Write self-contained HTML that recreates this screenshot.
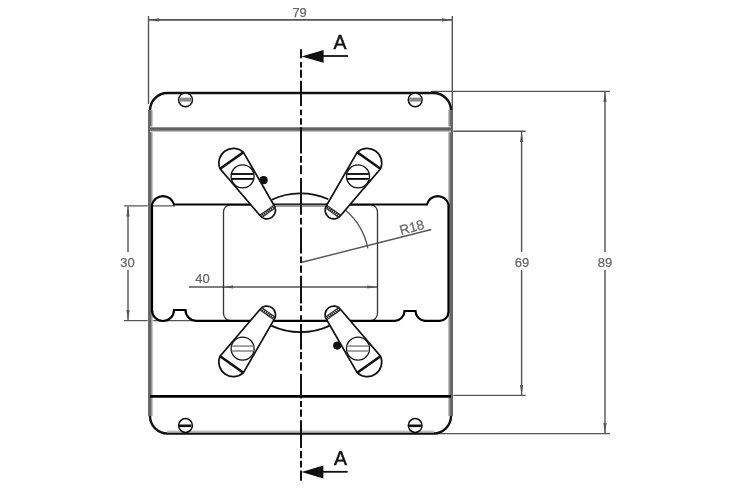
<!DOCTYPE html>
<html><head><meta charset="utf-8">
<style>
html,body{margin:0;padding:0;background:#fff;}
svg{display:block;filter:blur(0.45px);}
text{font-family:"Liberation Sans",sans-serif;}
</style></head>
<body>
<svg width="750" height="495" viewBox="0 0 750 495">
<defs>
  <linearGradient id="gt" x1="0" y1="0" x2="0" y2="1">
    <stop offset="0" stop-color="#fff"/><stop offset="0.22" stop-color="#666"/><stop offset="0.45" stop-color="#585858"/><stop offset="0.75" stop-color="#8a8a8a"/><stop offset="1" stop-color="#fff"/>
  </linearGradient>
  <linearGradient id="gb" x1="0" y1="0" x2="0" y2="1">
    <stop offset="0" stop-color="#fff"/><stop offset="1" stop-color="#888"/>
  </linearGradient>
  <linearGradient id="gl" x1="0" y1="0" x2="1" y2="0">
    <stop offset="0" stop-color="#fff"/><stop offset="0.12" stop-color="#6a6a6a"/><stop offset="0.5" stop-color="#646464"/><stop offset="0.88" stop-color="#c8c8c8"/><stop offset="1" stop-color="#fff"/>
  </linearGradient>
  <linearGradient id="gr" x1="0" y1="0" x2="1" y2="0">
    <stop offset="0" stop-color="#fff"/><stop offset="0.12" stop-color="#c8c8c8"/><stop offset="0.5" stop-color="#6a6a6a"/><stop offset="0.88" stop-color="#646464"/><stop offset="1" stop-color="#fff"/>
  </linearGradient>
  <marker id="ah" viewBox="0 0 10 4" refX="10" refY="2" markerWidth="10" markerHeight="4" markerUnits="userSpaceOnUse" orient="auto">
    <path d="M0,0.4 L10,2 L0,3.6 Z" fill="#555"/>
  </marker>
  <g id="leverbody">
    <g transform="translate(233.5,163) rotate(-35.22)">
      <path d="M14.3,-3 L8.7,57.8 A8.7 8.7 0 0 1 -8.7,57.8 L-14.3,-3 A14.6 14.6 0 0 1 14.3,-3 Z" fill="#fff" stroke="#111" stroke-width="1.7"/>
      <line x1="-14.3" y1="-3" x2="14.3" y2="-3" stroke="#111" stroke-width="2.6"/>
      <line x1="-8.7" y1="59.3" x2="8.7" y2="59.3" stroke="#222" stroke-width="3" stroke-dasharray="1.4 0.7"/>
      <line x1="-8.7" y1="57.8" x2="8.7" y2="57.8" stroke="#222" stroke-width="1"/>
      <line x1="-8.4" y1="60.8" x2="8.4" y2="60.8" stroke="#333" stroke-width="1"/>
    </g>
    <circle cx="242.6" cy="176.3" r="11.5" fill="#fff" stroke="#111" stroke-width="1.3"/>
  </g>
  <g id="slots"><line x1="231.8" y1="174" x2="253.4" y2="174"/><line x1="231.8" y1="178.9" x2="253.4" y2="178.9"/></g>
</defs>

<!-- 79 dimension -->
<g stroke="#555" stroke-width="1.4" fill="none">
  <line x1="148.5" y1="16" x2="148.5" y2="104"/>
  <line x1="452.3" y1="16" x2="452.3" y2="112"/>
  <line x1="149" y1="19.8" x2="452" y2="19.8" marker-end="url(#ah)"/>
  <line x1="452" y1="19.8" x2="149" y2="19.8" marker-end="url(#ah)"/>
</g>
<text x="299.6" y="17" font-size="12.8" fill="#666" stroke="#666" stroke-width="0.25" text-anchor="middle">79</text>

<!-- right dims -->
<g stroke="#555" stroke-width="1.4" fill="none">
  <line x1="431" y1="91.4" x2="610" y2="91.4"/>
  <line x1="452" y1="131.2" x2="525.6" y2="131.2"/>
  <line x1="452" y1="395.4" x2="525.6" y2="395.4"/>
  <line x1="431" y1="433.6" x2="610" y2="433.6"/>
  <line x1="605" y1="252" x2="605" y2="92" marker-end="url(#ah)"/>
  <line x1="605" y1="270" x2="605" y2="433" marker-end="url(#ah)"/>
  <line x1="521.6" y1="252" x2="521.6" y2="132" marker-end="url(#ah)"/>
  <line x1="521.6" y1="270" x2="521.6" y2="395" marker-end="url(#ah)"/>
  <!-- 30 -->
  <line x1="124" y1="205.9" x2="175" y2="205.9"/>
  <line x1="124" y1="320.6" x2="196" y2="320.6"/>
  <line x1="128" y1="252" x2="128" y2="206.5" marker-end="url(#ah)"/>
  <line x1="128" y1="270" x2="128" y2="320" marker-end="url(#ah)"/>
  <!-- 40 -->
  <line x1="189" y1="287" x2="223.5" y2="287"/>
  <line x1="300" y1="287" x2="223.3" y2="287" marker-end="url(#ah)"/>
  <line x1="300" y1="287" x2="377.3" y2="287" marker-end="url(#ah)"/>
  <!-- R18 -->
  <line x1="301" y1="262.5" x2="431.3" y2="229.5"/>
  <path d="M344.8,209.5 A69 69 0 0 1 367.9,248.3"/>
</g>
<g fill="#666" font-size="13" stroke="#666" stroke-width="0.25">
<text x="522" y="267.4" text-anchor="middle">69</text>
<text x="605" y="267.4" text-anchor="middle">89</text>
<text x="127.6" y="267" text-anchor="middle">30</text>
<text x="202.4" y="283" text-anchor="middle">40</text>
<text x="0" y="0" font-size="13.5" transform="translate(401,235) rotate(-15)">R18</text>
</g>

<!-- outer plate -->
<path d="M150,110.5 A17.5 17.5 0 0 1 167.5,93 L433.5,93 A17.5 17.5 0 0 1 451,110.5 M451,416 A17.5 17.5 0 0 1 433.5,433.5 L167.5,433.5 A17.5 17.5 0 0 1 150,416" fill="none" stroke="#111" stroke-width="2.4"/>
<rect x="167" y="429.6" width="267" height="3.4" fill="url(#gb)"/>
<rect x="147.6" y="110" width="5.6" height="306" fill="url(#gl)"/>
<rect x="447.6" y="110" width="5.8" height="306" fill="url(#gr)"/>
<rect x="150" y="126.6" width="301" height="5.6" fill="url(#gt)"/>
<line x1="150" y1="396.4" x2="451" y2="396.4" stroke="#000" stroke-width="2.9"/>
<!-- holes -->
<g stroke="#111" stroke-width="1.5" fill="#fff">
  <circle cx="185.5" cy="99.9" r="6.9"/>
  <circle cx="415.2" cy="99.9" r="6.9"/>
  <circle cx="185.5" cy="425.5" r="6.9"/>
  <circle cx="415.2" cy="425.5" r="6.9"/>
</g>
<g stroke="#8a8a8a" stroke-width="4">
  <line x1="179.5" y1="99.6" x2="191.5" y2="99.6"/>
  <line x1="409.2" y1="99.6" x2="421.2" y2="99.6"/>
</g>
<g stroke="#111" stroke-width="2.6">
  <line x1="179" y1="425.8" x2="191.4" y2="425.8"/>
  <line x1="409" y1="425.8" x2="421.4" y2="425.8"/>
</g>

<!-- inner rect -->
<rect x="223.5" y="204.8" width="154" height="115.8" rx="7" ry="7" fill="none" stroke="#333" stroke-width="1.3"/>
<!-- big arc circle -->
<path d="M271.7,199.7 A69 69 0 0 1 328.3,199.2" fill="none" stroke="#111" stroke-width="1.8"/>
<path d="M271.2,325.6 A69 69 0 0 0 329.9,325.6" fill="none" stroke="#111" stroke-width="1.8"/>

<!-- band profile -->
<path d="M152,204.5 A11.4 11.4 0 0 1 174,204.5 L427,204.5 A11.1 11.1 0 0 1 448.5,204.5 L448.5,311.8 A9 9 0 0 1 439.5,320.8 L425,320.8 A9.8 9.8 0 0 1 415.5,311 L404.5,311 A9.8 9.8 0 0 1 395,320.8 L196,320.8 A10.8 10.8 0 0 1 185.5,310 L174,310 A11 11 0 0 1 152,310 Z" fill="none" stroke="#000" stroke-width="2.2"/>
<line x1="275" y1="205.8" x2="326" y2="205.8" stroke="#999" stroke-width="2.2"/>

<!-- levers -->
<use href="#leverbody"/>
<use href="#leverbody" transform="translate(600.6,0) scale(-1,1)"/>
<use href="#leverbody" transform="translate(0,525) scale(1,-1)"/>
<use href="#leverbody" transform="translate(600.6,525) scale(-1,-1)"/>
<g stroke="#000" stroke-width="1.8">
<use href="#slots"/>
<use href="#slots" transform="translate(600.6,0) scale(-1,1)"/>
</g>
<g stroke="#999" stroke-width="1.8">
<use href="#slots" transform="translate(0,525) scale(1,-1)"/>
<use href="#slots" transform="translate(600.6,525) scale(-1,-1)"/>
</g>
<circle cx="263.6" cy="180.2" r="4.1" fill="#111"/>
<circle cx="337.2" cy="345.6" r="4.1" fill="#111"/>

<!-- centerline -->
<path d="M301,49.2V58.3M301,62V67.4M301,69.8V77.7M301,80.8V106M301,109.7V115.2M301,118.2V124.8M301,127.3V153.6M301,156V162.7M301,165.2V174.2M301,177.9V214.7M301,217.7V224.4M301,227.4V253.5M301,256.5V263M301,265.5V272.7M301,275.8V303.6M301,305.5V310.9M301,315.2V321M301,324.1V349.5M301,352V359.2M301,362.3V370.5M301,374V398.5M301,400.9V407M301,409.4V416.7M301,420.3V448M301,451V458.3M301,460.8V467.4M301,470.5V480.8" stroke="#111" stroke-width="2" fill="none"/>
<!-- section arrows -->
<g fill="#111" stroke="#111">
  <path d="M301.5,56.4 L323.6,50 L323.6,62.8 Z" stroke="none"/>
  <line x1="322" y1="56" x2="348" y2="56" stroke-width="1.8"/>
  <path d="M301.5,472 L323.4,465.6 L323.4,478.4 Z" stroke="none"/>
  <line x1="322" y1="471.8" x2="347.7" y2="471.8" stroke-width="1.8"/>
</g>
<text x="333.6" y="48.9" font-size="19.5" fill="#111" stroke="#111" stroke-width="0.45">A</text>
<text x="334.1" y="464.5" font-size="19.5" fill="#111" stroke="#111" stroke-width="0.45">A</text>
</svg>
</body></html>
